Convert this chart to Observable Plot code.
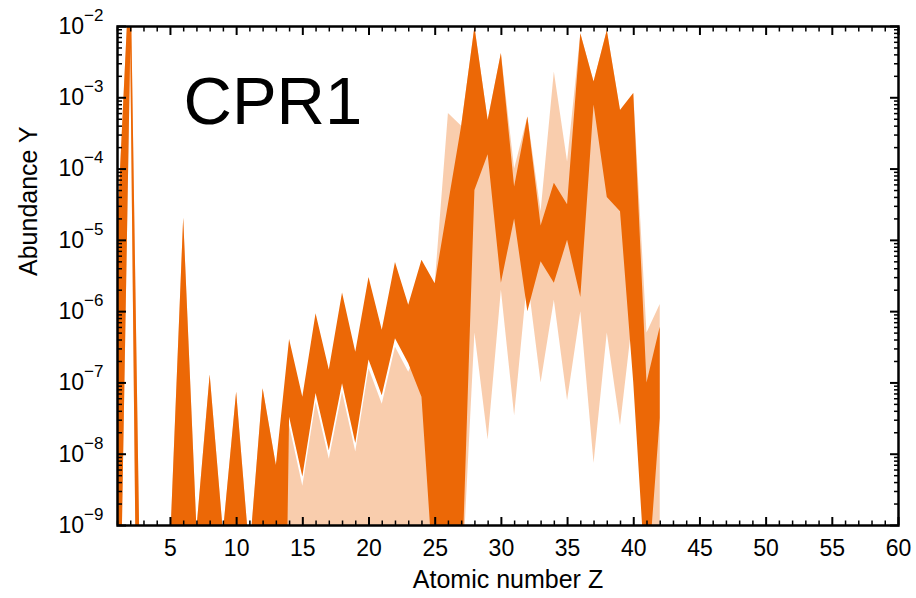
<!DOCTYPE html>
<html><head><meta charset="utf-8">
<script src="https://cdn.jsdelivr.net/npm/d3@7"></script>
<script src="https://cdn.jsdelivr.net/npm/@observablehq/plot@0.6"></script>
<style>body{margin:0;background:#fff;font-family:"Liberation Sans",Arial,sans-serif}</style>
</head><body><div id="chart"></div>
<script>
// Atomic number Z
const Z = [1,2,3,4,5,6,7,8,9,10,11,12,13,14,15,16,17,18,19,20,21,22,23,24,25,26,27,28,29,30,31,32,33,34,35,36,37,38,39,40,41,42];
// log10 abundance: upper edge of the dense (opaque) bundle of trajectories
const solidTop = [-4.9,-1.0,-13,-14,-9.3,-4.69,-9.05,-6.89,-9.1,-7.13,-9.4,-7.08,-8.16,-6.39,-7.20,-6.03,-6.82,-5.74,-6.57,-5.52,-6.26,-5.31,-5.91,-5.28,-5.61,-4.5,-3.4,-2.01,-3.32,-2.38,-4.25,-3.27,-4.8,-4.2,-4.5,-2.10,-2.78,-2.06,-3.18,-2.94,-7.0,-6.22];
// log10 abundance: lower edge of the dense bundle
const solidLow = [-13,-2.3,-20,-20,-20,-20,-20,-20,-20,-20,-20,-20,-20,-7.48,-8.32,-7.15,-7.95,-7.01,-7.85,-6.68,-7.18,-6.38,-6.73,-7.2,-10,-10,-10,-4.3,-3.8,-5.6,-4.7,-6.0,-5.3,-5.6,-5.0,-5.8,-3.1,-4.4,-4.6,-7.0,-10,-7.5];
// log10 abundance: upper edge of the sparse (faint) trajectories
const faintTop = [-4.9,-1.0,-13,-14,-9.3,-4.69,-9.05,-6.89,-9.1,-7.13,-9.4,-7.08,-8.16,-7.6,-8.45,-7.27,-8.07,-7.13,-7.97,-6.80,-7.30,-6.50,-6.85,-6.42,-5.61,-3.22,-3.4,-2.01,-3.32,-2.38,-4.0,-3.27,-4.6,-2.64,-3.9,-2.10,-2.78,-2.06,-3.18,-2.94,-6.3,-5.9];
// log10 abundance: lower edge of the sparse trajectories
const faintLow = [-13,-2.3,-20,-20,-20,-20,-20,-20,-20,-20,-20,-20,-20,-10,-10,-10,-10,-10,-10,-10,-10,-10,-10,-10,-10,-10,-10,-6.3,-7.8,-5.7,-7.46,-5.52,-7.0,-5.84,-7.25,-6.0,-8.13,-6.3,-7.6,-6.0,-10,-10];

const xMajor = [5,10,15,20,25,30,35,40,45,50,55,60];
const xMinor = d3.range(1, 61).filter(d => d % 5 !== 0);
const yExponents = [-9,-8,-7,-6,-5,-4,-3,-2];
const yMajor = yExponents.map(e => Math.pow(10, e));
const yMinor = [];
for (const e of yExponents.slice(0, -1)) for (let m = 2; m <= 9; m++) yMinor.push(m * Math.pow(10, e));

const table = Z.map((z, i) => ({
  z,
  st: Math.pow(10, solidTop[i]), sl: Math.pow(10, solidLow[i]),
  ft: Math.pow(10, faintTop[i]), fl: Math.pow(10, faintLow[i])
}));

const orange = "#ec6806";
const font = "Liberation Sans, Arial, sans-serif";

const plot = Plot.plot({
  width: 916, height: 598,
  marginLeft: 117, marginRight: 18, marginTop: 26, marginBottom: 73,
  style: {fontFamily: font, fontSize: "23px", color: "#000", background: "#fff", overflow: "visible"},
  x: {domain: [1, 60]},
  y: {type: "log", domain: [1e-9, 1e-2]},
  marks: [
    Plot.areaY(table, {x: "z", y1: "fl", y2: "ft", fill: orange, fillOpacity: 0.33, clip: true}),
    Plot.areaY(table, {x: "z", y1: "sl", y2: "st", fill: orange, clip: true}),
    Plot.axisX(xMinor, {anchor: "bottom", tickSize: -4.5, fill: "none", label: null, strokeWidth: 1.5}),
    Plot.axisX(xMinor, {anchor: "top", tickSize: -4.5, fill: "none", label: null, strokeWidth: 1.5}),
    Plot.axisX(xMajor, {anchor: "bottom", tickSize: -8, fill: "none", label: null, strokeWidth: 2}),
    Plot.axisX(xMajor, {anchor: "top", tickSize: -8, fill: "none", label: null, strokeWidth: 2}),
    Plot.axisY(yMinor, {anchor: "left", tickSize: -5, fill: "none", label: null, strokeWidth: 1.5}),
    Plot.axisY(yMinor, {anchor: "right", tickSize: -5, fill: "none", label: null, strokeWidth: 1.5}),
    Plot.axisY(yMajor, {anchor: "left", tickSize: -9, fill: "none", label: null, strokeWidth: 2}),
    Plot.axisY(yMajor, {anchor: "right", tickSize: -9, fill: "none", label: null, strokeWidth: 2}),
    Plot.axisX(xMajor, {anchor: "bottom", tickSize: 0, tickPadding: 14, label: null, fontSize: 23, tickFormat: d => String(d)}),
    Plot.axisY(yMajor, {anchor: "left", tickSize: 0, tickPadding: 14, label: null, fontSize: 23,
      tickFormat: d => "10^" + String(Math.round(Math.log10(d))).replace("-", "\u2212")}),
    Plot.frame({stroke: "#000", strokeWidth: 2.5}),
    Plot.text(["CPR1"], {frameAnchor: "top-left", dx: 66, dy: 97, lineAnchor: "bottom", textAnchor: "start", fontSize: 67, fill: "#000"}),
    Plot.text(["Abundance Y"], {frameAnchor: "left", dx: -89, rotate: -90, fontSize: 25, fill: "#000"}),
    Plot.text(["Atomic number Z"], {frameAnchor: "bottom", dy: 62, fontSize: 25, fill: "#000"})
  ]
});

plot.querySelectorAll('g[aria-label="y-axis tick label"] text').forEach(t => {
  const s = t.textContent;
  const parts = s.split("^");
  if (parts.length !== 2) return;
  t.textContent = parts[0];
  const ts = document.createElementNS("http://www.w3.org/2000/svg", "tspan");
  ts.setAttribute("dy", "-13");
  ts.setAttribute("font-size", "17");
  ts.textContent = parts[1];
  t.appendChild(ts);
});

document.getElementById("chart").appendChild(plot);
</script>
</body></html>
